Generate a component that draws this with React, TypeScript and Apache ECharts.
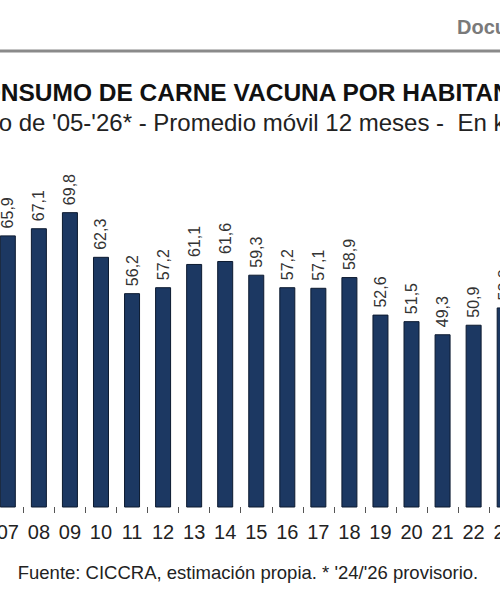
import React, { useEffect, useRef } from "react";
import * as echarts from "echarts";

const years = ["07", "08", "09", "10", "11", "12", "13", "14", "15", "16", "17", "18", "19", "20", "21", "22", "23"];
const consumo = [65.9, 67.1, 69.8, 62.3, 56.2, 57.2, 61.1, 61.6, 59.3, 57.2, 57.1, 58.9, 52.6, 51.5, 49.3, 50.9, 53.8];

const titleText = "CONSUMO DE CARNE VACUNA POR HABITANTE";
const subtitleText = "Período de '05-'26* - Promedio móvil 12 meses -  En kg/hab/año";
const sourceText = "Fuente: CICCRA, estimación propia. * '24/'26 provisorio.";
const headerText = "Documento";

const FONT = "'Liberation Sans', Arial, sans-serif";

export default function App() {
  const ref = useRef<HTMLDivElement>(null);
  useEffect(() => {
    if (!ref.current) return;
    const chart = echarts.init(ref.current, null, { renderer: "svg" });
    chart.setOption({
      animation: false,
      backgroundColor: "#ffffff",
      textStyle: { fontFamily: FONT },
      grid: {
        left: -7.7,
        right: -20.2,
        top: 149.6,
        bottom: 93,
        containLabel: false,
        outerBoundsMode: "none",
      },
      xAxis: {
        type: "category",
        data: years,
        boundaryGap: true,
        axisLine: { show: false },
        axisTick: { show: true, length: 6, lineStyle: { color: "#555555", width: 1 } },
        axisLabel: { fontSize: 20, color: "#222222", margin: 15, fontFamily: FONT, interval: 0, hideOverlap: false },
      },
      yAxis: {
        type: "value",
        min: 20.3,
        max: 80.3,
        show: false,
        splitLine: { show: false },
      },
      series: [
        {
          type: "bar",
          data: consumo,
          barWidth: 16,
          itemStyle: { color: "#1c3862", borderColor: "#0c1a30", borderWidth: 1 },
          label: {
            show: true,
            position: "top",
            rotate: 90,
            align: "left",
            verticalAlign: "middle",
            distance: 7,
            fontSize: 16,
            color: "#333333",
            fontFamily: FONT,
            formatter: (p: any) => Number(p.value).toFixed(1).replace(".", ","),
          },
        },
      ],
      graphic: [
        {
          type: "text",
          left: 457,
          top: 17,
          style: { text: headerText, font: `bold 20px ${FONT}`, fill: "#7a7a7a" },
        },
        {
          type: "rect",
          shape: { x: 0, y: 49.5, width: 500, height: 3 },
          style: { fill: "#8a8a8a" },
        },
        {
          type: "text",
          x: -36,
          y: 80,
          style: { text: titleText, font: `bold 24.5px ${FONT}`, fill: "#111111", verticalAlign: "top", align: "left" },
        },
        {
          type: "text",
          x: -72,
          y: 110,
          style: { text: subtitleText, font: `24px ${FONT}`, fill: "#222222", verticalAlign: "top", align: "left" },
        },
        {
          type: "text",
          x: 248,
          y: 572,
          style: { text: sourceText, font: `18.5px ${FONT}`, fill: "#222222", verticalAlign: "middle", align: "center" },
        },
      ],
    });
    return () => chart.dispose();
  }, []);
  return (
    <div
      ref={ref}
      style={{ position: "absolute", left: 0, top: 0, width: 500, height: 600, overflow: "hidden" }}
    />
  );
}
